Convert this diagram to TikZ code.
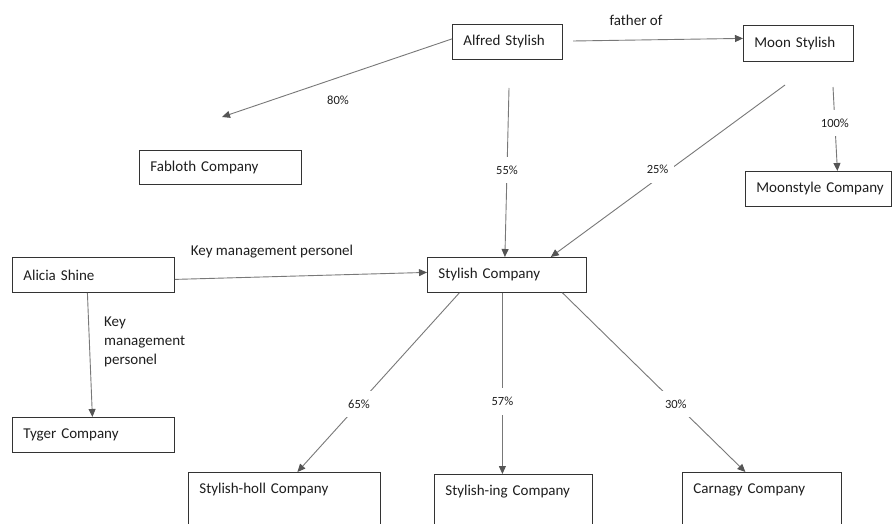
\documentclass[tikz,border=0pt]{standalone}
\usepackage{fontspec}
\setmainfont{Carlito}
\usetikzlibrary{arrows.meta}
\definecolor{lineC}{RGB}{120,120,120}
\definecolor{tipC}{RGB}{85,85,85}
\definecolor{txtC}{RGB}{30,30,30}
\begin{document}
\begin{tikzpicture}[x=1pt,y=-1pt,
  boxn/.style={draw=black!80, line width=0.8pt, anchor=north west, inner xsep=11pt,
    align=left, text=txtC, font=\fontsize{15}{18}\selectfont},
  botbox/.style={boxn, text height=11pt, text depth=70pt, inner ysep=10pt},
  conn/.style={draw=lineC, line width=0.9pt, -{Triangle[length=8pt,width=7pt,color=tipC]}},
  pct/.style={font=\fontsize{12.5}{14}\selectfont, fill=white, inner xsep=6pt, inner ysep=9pt, text=txtC},
  pctplain/.style={font=\fontsize{12.5}{14}\selectfont, inner sep=0pt, text=txtC},
  lbl/.style={font=\fontsize{15}{19}\selectfont, inner sep=0pt, text=txtC, align=left}]
\useasboundingbox (0,0) rectangle (893,524);
\clip (0,0) rectangle (893,524);
\fill[white] (0,0) rectangle (893,524);

% boxes
\node[boxn, minimum height=35pt, text width=88pt] (alfred) at (452,24) {\mbox{Alfred Stylish}};
\node[boxn, minimum height=36pt, text width=88pt] (moon) at (743,25) {\mbox{Moon Stylish}};
\node[boxn, minimum height=35pt, text width=124pt] (moonco) at (745,171) {\mbox{Moonstyle Company}};
\node[boxn, minimum height=34pt, text width=140pt] (fabloth) at (139,150) {\mbox{Fabloth Company}};
\node[boxn, minimum height=35pt, text width=140pt] (alicia) at (12,257) {\mbox{Alicia Shine}};
\node[boxn, minimum height=35pt, text width=140pt] (tyger) at (12,417) {\mbox{Tyger Company}};
\node[boxn, minimum height=35pt, text width=137pt] (stylish) at (427,257) {\mbox{Stylish Company}};
\node[botbox, text width=170pt] (holl) at (188,472) {\mbox{Stylish-holl Company}};
\node[botbox, text width=136pt] (ing) at (434,474) {\mbox{Stylish-ing Company}};
\node[botbox, text width=137pt] (carnagy) at (682,472) {\mbox{Carnagy Company}};

% free ends
\coordinate (e80) at (222,117);
\coordinate (sfather) at (573,41);
\coordinate (s55) at (509,88);
\coordinate (s25) at (785,85);
\coordinate (s100) at (833,87);

% connectors
\draw[conn] ([yshift=3pt]alfred.west) -- (e80);
\node[pctplain] (l80) at (338,100) {80\%};

\draw[conn] (sfather) -- ([yshift=5pt]moon.west);
\node[lbl] (lfather) at (636,20) {father of};

\draw[conn] (s55) -- node[pct, pos=0.485] (l55) {55\%} ([xshift=-2pt]stylish.north);
\draw[conn] (s25) -- node[pct, pos=0.51, xshift=-8pt, yshift=3pt] (l25) {25\%} ([xshift=-36pt]stylish.north east);
\draw[conn] (s100) -- node[pct, pos=0.43] (l100) {100\%} ([xshift=19pt]moonco.north);

\draw[conn] ([yshift=-4.5pt]alicia.east) -- ([yshift=2.5pt]stylish.west);
\node[lbl] (lkey1) at (272,252) {Key management personel};

\draw[conn] ([xshift=-6pt]alicia.south) -- ([xshift=-1pt]tyger.north);
\node[lbl, anchor=north west] (lkey2) at (104,317) {Key\\management\\personel};

\draw[conn] ([xshift=-47.5pt]stylish.south) -- node[pct, pos=0.62] (l65) {65\%} ([xshift=13pt]holl.north);
\draw[conn] ([xshift=-4.5pt]stylish.south) -- node[pct, pos=0.6] (l57) {57\%} ([xshift=-11pt]ing.north);
\draw[conn] ([xshift=55.5pt]stylish.south) -- node[pct, pos=0.62] (l30) {30\%} ([xshift=-16.5pt]carnagy.north);
\end{tikzpicture}
\end{document}
